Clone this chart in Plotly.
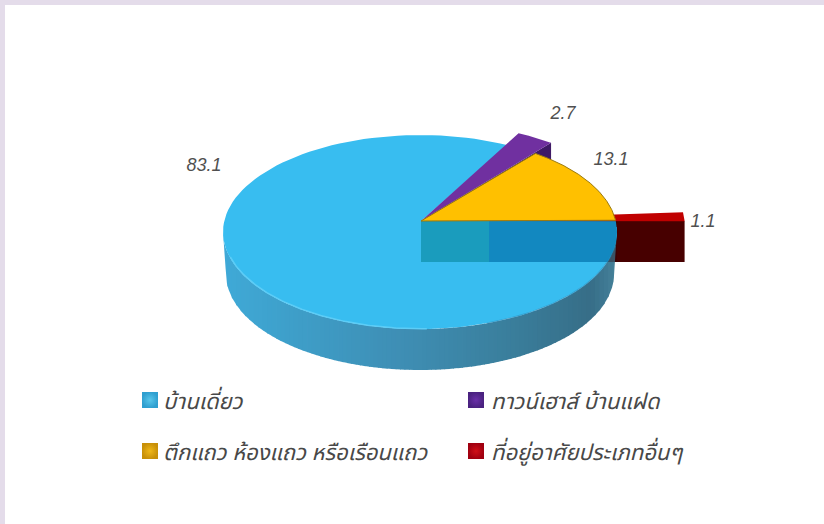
import numpy as np
import plotly.graph_objects as go

# ---- data ----
categories = ["บ้านเดี่ยว", "ทาวน์เฮาส์ บ้านแฝด", "ตึกแถว ห้องแถว หรือเรือนแถว", "ที่อยู่อาศัยประเภทอื่นๆ"]
values = [83.1, 2.7, 13.1, 1.1]
value_labels = ["83.1", "2.7", "13.1", "1.1"]

# ---- geometry and style ----
CX, CY, A, B = 420.0, 232.0, 197.0, 97.0
APEX = (421.0, 221.0)
DEPTH = 42.0
START = 3.0
TOP = ["#38bdf0", "#7030a0", "#ffc000", "#c00000"]
LEGEND_COL = ["#2f9fd0", "#4a2280", "#c89008", "#a00010"]
LEGEND_HI = ["#58c6ea", "#6a30a8", "#f0b818", "#d01018"]
LABEL_POS = [(204, 166), (563, 114), (611, 160), (703, 222)]
LEGEND_POS = [(150, 400), (476, 400), (150, 451), (476, 451)]
LEGEND_DX = [11, 13, 11, 13]

# angles are derived from the values, counter-clockwise from START
order = [3, 2, 1, 0]
angles = {}
a = START
for i in order:
    angles[i] = (a, a + values[i] / sum(values) * 360)
    a = angles[i][1]


def rim(t0, t1, r=1.0, cx=CX, cy=CY, n=120, aa=A, bb=B):
    t = np.radians(np.linspace(t0, t1, n))
    return cx + aa * r * np.cos(t), cy - bb * r * np.sin(t)


fig = go.Figure()


def poly(x, y, fill, line=None, width=0):
    fig.add_trace(go.Scatter(
        x=list(x), y=list(y), mode="lines", fill="toself", fillcolor=fill,
        line=dict(color=line or fill, width=width if line else 0),
        hoverinfo="skip", showlegend=False))


def wedge(i, r=1.0, dy=0.0, line=None, width=0):
    xs, ys = rim(*angles[i], r=r, cy=CY + dy)
    poly([APEX[0], *xs, APEX[0]], [APEX[1], *ys, APEX[1]], TOP[i], line, width)


RED_R, RED_DY = 1.345, -4.0
PURPLE_R = 1.135

# dark outer wall of the exploded red slice
rx, ry = rim(*angles[3], r=RED_R, cy=CY + RED_DY, n=2)
wall_right = float(rx.max())
wall_top, wall_bot = APEX[1], APEX[1] + 41
poly([APEX[0], wall_right, wall_right, APEX[0], APEX[0]],
     [wall_top, wall_top, wall_bot, wall_bot, wall_top], "#470000")

# blue cylinder side, drawn as shaded vertical strips
stops_x = [222, 300, 400, 520, 590, 617]
stops_c = np.array([[64, 170, 216], [62, 158, 200], [63, 143, 181],
                    [58, 125, 154], [55, 110, 136], [70, 130, 155]], float)
edges = np.linspace(CX - A, CX + A, 90)
for x0, x1 in zip(edges[:-1], edges[1:]):
    xs = np.linspace(x0, x1 + 0.8, 5)
    u = np.clip((xs - CX) / A, -1, 1)
    top = CY + B * np.sqrt(1 - u ** 2)
    bw = A - 3
    ub = np.clip((xs - CX) / bw, -1, 1)
    bot = CY + DEPTH + (B - 1) * np.sqrt(1 - ub ** 2)
    bot = np.where(np.abs(xs - CX) > bw, CY + DEPTH * np.clip((A - np.abs(xs - CX)) / 3, 0, 1), bot)
    m = (x0 + x1) / 2
    c = [int(np.interp(m, stops_x, stops_c[:, k])) for k in range(3)]
    poly([*xs, *xs[::-1], xs[0]], [*top, *bot[::-1], top[0]], f"rgb({c[0]},{c[1]},{c[2]})")

# red wall shows dimly through the cylinder side
poly([560, CX + A, CX + A, 560, 560], [wall_top, wall_top, wall_bot, wall_bot, wall_top], "rgba(40,0,10,0.35)")

# purple wall sits behind the yellow and blue faces
px, py = rim(*angles[1], r=PURPLE_R, n=30)
poly([px[0], px[0], APEX[0], APEX[0], px[0]],
     [py[0], py[0] + DEPTH, APEX[1] + DEPTH, APEX[1], py[0]], "#3f1a66")

# blue top face
wedge(0)

# soft light rim along lower-left edge of the face, fading shadow to the right
xs, ys = rim(195, 272, r=0.997)
fig.add_trace(go.Scatter(x=xs, y=ys, mode="lines", line=dict(color="#5ccdf7", width=1.5),
                         hoverinfo="skip", showlegend=False))
xs, ys = rim(290, 352, r=1.0)
fig.add_trace(go.Scatter(x=xs, y=ys, mode="lines", line=dict(color="rgba(45,130,175,0.45)", width=1.5),
                         hoverinfo="skip", showlegend=False))

# walls seen through the translucent face
split_x = 489.0


def clipped_rect(x0, x1, fill):
    y = np.linspace(wall_top, wall_bot, 30)
    lim = CX + A * np.sqrt(np.clip(1 - ((y - CY) / B) ** 2, 0, 1))
    right = np.minimum(x1, lim)
    poly([x0, *right, x0, x0], [wall_top, *y, wall_bot, wall_top], fill)


clipped_rect(APEX[0], split_x, "#1a9cbd")
clipped_rect(split_x, CX + A, "#1288c0")

# purple exploded slice
wedge(1, r=PURPLE_R)

# red exploded slice
wedge(3, r=RED_R, dy=RED_DY)

# yellow slice on top
wedge(2, line="#9a7a10", width=1)

# value labels
fig.add_trace(go.Scatter(
    x=[p[0] for p in LABEL_POS], y=[p[1] for p in LABEL_POS], mode="text",
    text=[f"<i>{v}</i>" for v in value_labels],
    textfont=dict(family="Liberation Sans, Arial, sans-serif", size=18, color="#505050"),
    hoverinfo="skip", showlegend=False))

# legend
for i, (lx, ly) in enumerate(LEGEND_POS):
    fig.add_trace(go.Scatter(
        x=[lx], y=[ly], mode="markers",
        marker=dict(symbol="square", size=16, color=LEGEND_COL[i],
                    gradient=dict(type="radial", color=LEGEND_HI[i])),
        hoverinfo="skip", showlegend=False))
    fig.add_annotation(x=lx + LEGEND_DX[i], y=ly + 2, text=f"<i>{categories[i]}</i>", showarrow=False,
                       xanchor="left", yanchor="middle",
                       font=dict(family="Noto Sans Thai, Noto Sans, Liberation Sans, sans-serif", size=22, color="#484848"))

fig.update_layout(
    width=824, height=524, autosize=False,
    margin=dict(l=0, r=0, t=0, b=0),
    paper_bgcolor="white", plot_bgcolor="white", showlegend=False,
    xaxis=dict(range=[0, 824], visible=False, fixedrange=True),
    yaxis=dict(range=[524, 0], visible=False, fixedrange=True),
    shapes=[
        dict(type="rect", xref="paper", yref="paper", x0=0, x1=1, y0=1 - 5 / 524, y1=1,
             fillcolor="#e4dcea", line_width=0, layer="above"),
        dict(type="rect", xref="paper", yref="paper", x0=0, x1=5 / 824, y0=0, y1=1,
             fillcolor="#e4dcea", line_width=0, layer="above"),
    ],
)

fig.write_html("out.html", config=dict(displayModeBar=False),
               post_script="document.body.style.margin='0';document.body.style.overflow='hidden';")
